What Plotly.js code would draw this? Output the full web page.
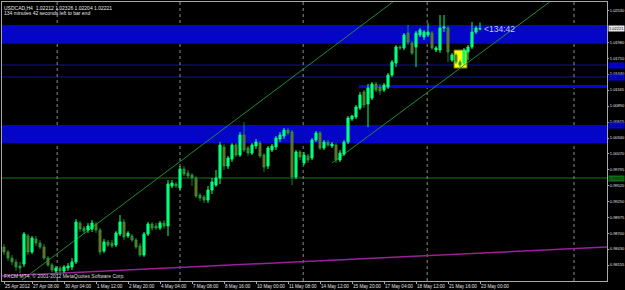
<!DOCTYPE html>
<html><head><meta charset="utf-8">
<script src="https://cdn.plot.ly/plotly-3.0.1.min.js"></script>
<style>html,body{margin:0;padding:0;background:#000;}#chart{width:625px;height:290px;}</style>
</head><body><div id="chart"></div>
<script>
// USDCAD H4 candles (oldest -> newest)
const open = [0.98466,0.98380,0.98276,0.98208,0.98139,0.98173,0.98655,0.98380,0.98603,0.98534,
0.98466,0.98276,0.98156,0.98053,0.98104,0.98053,0.98104,0.98122,0.98208,0.98878,
0.98792,0.98758,0.98775,0.98861,0.98758,0.98397,0.98552,0.98534,0.98500,0.98689,
0.98896,0.98655,0.98655,0.98586,0.98483,0.98328,0.98689,0.98861,0.98827,0.98792,
0.98878,0.98827,0.99515,0.99549,0.99480,0.99807,0.99738,0.99704,0.99652,0.99360,
0.99326,0.99274,0.99446,0.99532,0.99652,1.00186,0.99859,0.99979,1.00220,1.00048,
1.00392,1.00168,1.00082,1.00203,1.00254,1.00048,0.99859,1.00134,1.00186,1.00323,
1.00375,1.00478,1.00444,0.99670,1.00100,0.99910,1.00031,0.99996,1.00306,1.00426,
1.00168,1.00272,1.00203,1.00220,0.99962,1.00065,1.00272,1.00667,1.00702,1.00856,
1.01132,1.00925,1.01028,1.01269,1.01218,1.01166,1.01218,1.01424,1.01630,1.01906,
1.01888,1.02146,1.01974,1.01906,1.02112,1.02078,1.02112,1.02146,1.01854,1.01854,
1.02232,1.02232,1.01682,1.01768,1.01648,1.01630,1.01820,1.01906,1.02164,1.02212];
const high = [0.98517,0.98414,0.98328,0.98259,0.98208,0.98724,0.98689,0.98655,0.98655,0.98586,
0.98517,0.98311,0.98190,0.98139,0.98139,0.98156,0.98190,0.98276,0.98947,0.98913,
0.98827,0.98878,0.98930,0.98896,0.98792,0.98603,0.98586,0.98586,0.98741,0.99016,
0.98947,0.98741,0.98689,0.98620,0.98534,0.98724,0.98896,0.98896,0.98878,0.98913,
0.98930,0.99618,0.99618,0.99584,0.99859,0.99859,0.99790,0.99738,0.99687,0.99394,
0.99360,0.99515,0.99652,0.99790,1.00272,1.00237,1.00031,1.00254,1.00254,1.00444,
1.00616,1.00203,1.00254,1.00323,1.00289,1.00082,1.00203,1.00237,1.00375,1.00444,
1.00512,1.00512,1.00478,1.00134,1.00134,1.00100,1.00065,1.00340,1.00461,1.00461,
1.00306,1.00306,1.00272,1.00254,1.00134,1.00306,1.00719,1.00736,1.00908,1.01132,
1.01166,1.01269,1.01304,1.01304,1.01269,1.01286,1.01458,1.01682,1.01940,1.01940,
1.02146,1.02284,1.02009,1.02181,1.02232,1.02198,1.02318,1.02181,1.01923,1.02456,
1.02456,1.02267,1.01802,1.01802,1.01682,1.01888,1.01940,1.02336,1.02267,1.02326];
const low = [0.98328,0.98225,0.98156,0.98053,0.98018,0.98122,0.98328,0.98345,0.98483,0.98431,
0.98242,0.98122,0.98036,0.98018,0.98018,0.98018,0.98053,0.98070,0.98173,0.98724,
0.98689,0.98706,0.98724,0.98706,0.98328,0.98362,0.98466,0.98448,0.98466,0.98655,
0.98586,0.98620,0.98552,0.98431,0.98294,0.98294,0.98655,0.98741,0.98758,0.98758,
0.98775,0.98655,0.99480,0.99480,0.99446,0.99687,0.99652,0.99515,0.99308,0.99257,
0.99222,0.99222,0.99377,0.99498,0.99549,0.99790,0.99807,0.99928,1.00014,1.00014,
1.00100,1.00031,1.00048,1.00151,0.99996,0.99756,0.99807,1.00100,1.00134,1.00272,
1.00323,1.00392,0.99532,0.99635,0.99962,0.99876,0.99910,0.99962,1.00272,1.00134,
1.00134,1.00186,1.00168,0.99910,0.99928,1.00031,1.00237,1.00633,1.00667,1.00822,
1.00856,1.00530,1.00994,1.01132,1.01080,1.01132,1.01183,1.01390,1.01562,1.01854,
1.01854,1.01940,1.01768,1.01562,1.02078,1.02026,1.02078,1.01854,1.01820,1.01802,
1.02164,1.01648,1.01648,1.01613,1.01562,1.01596,1.01682,1.01871,1.02129,1.02204];
const close = [0.98380,0.98276,0.98208,0.98122,0.98104,0.98689,0.98380,0.98620,0.98534,0.98466,
0.98276,0.98156,0.98070,0.98104,0.98053,0.98122,0.98139,0.98208,0.98896,0.98775,
0.98741,0.98827,0.98878,0.98758,0.98380,0.98552,0.98500,0.98483,0.98706,0.98896,
0.98638,0.98706,0.98586,0.98466,0.98328,0.98689,0.98861,0.98792,0.98792,0.98878,
0.98827,0.99549,0.99566,0.99515,0.99807,0.99721,0.99687,0.99652,0.99343,0.99308,
0.99274,0.99446,0.99584,0.99652,1.00220,0.99859,0.99996,1.00220,1.00048,1.00392,
1.00134,1.00082,1.00220,1.00272,1.00031,0.99842,1.00168,1.00203,1.00340,1.00392,
1.00478,1.00426,0.99670,1.00100,1.00014,1.00048,0.99962,1.00306,1.00426,1.00168,
1.00272,1.00220,1.00237,0.99962,1.00082,1.00272,1.00684,1.00719,1.00874,1.01080,
1.00908,1.01200,1.01269,1.01166,1.01149,1.01252,1.01424,1.01648,1.01906,1.01888,
1.02112,1.01992,1.01802,1.02146,1.02198,1.02164,1.02164,1.01888,1.01888,1.02232,
1.02250,1.01820,1.01768,1.01648,1.01596,1.01854,1.01906,1.02164,1.02232,1.02221];

// time axis labels (bar index -> label)
const timeTickBars = [0,7,15,23,31,39,47,55,63,71,79,87,95,103,111,119];
const timeTickLabels = ["25 Apr 2012","27 Apr 08:00","30 Apr 04:00","1 May 12:00","2 May 20:00","4 May 04:00",
  "7 May 08:00","8 May 16:00","10 May 00:00","11 May 08:00","14 May 12:00","15 May 20:00",
  "17 May 04:00","18 May 12:00","21 May 16:00","23 May 00:00"];
// price axis
const priceTicks = [1.02530,1.01980,1.01710,1.01440,1.01165,1.00890,1.00615,1.00340,1.00070,
  0.99795,0.99520,0.99250,0.98975,0.98700,0.98430,0.98155,0.97880];

// drawn objects
const bidPrice = 1.02221;
const upperZone = [1.01960, 1.02285];
const lowerZone = [1.00254, 1.00564];
const smallZone = [1.01200, 1.01252];
const smallZoneStart = 88.7;
const blueLevels = [1.01596, 1.01390];
const greenLevel = 0.99652;
const upperChannelX = [4.5, 97.2], upperChannelY = [0.97898, 1.02680];
const lowerChannelX = [82, 136.4], lowerChannelY = [0.99910, 1.02680];
const magentaX = [-0.5, 150.75], magentaY = [0.97967, 0.98466];
const periodSeparators = [13.3, 44, 74.8, 105.8, 142.5];
const boxX = [112.5, 115.75], boxY = [1.01544, 1.01854];

const bars = open.map((_, i) => i);
const XR = [-0.5, 150.75], YR = [0.97881, 1.02680];
const F = 'Liberation Sans, Arial, sans-serif';

const shapes = [];
const band = (y0, y1, x0, x1, col) => shapes.push({type:'rect', xref:'x', yref:'y', x0:x0, x1:x1, y0:y0, y1:y1,
  fillcolor:col, line:{width:0}, layer:'below'});
band(upperZone[0], upperZone[1], XR[0], XR[1], '#0505c8');
band(lowerZone[0], lowerZone[1], XR[0], XR[1], '#0505c8');
band(smallZone[0], smallZone[1], smallZoneStart, XR[1], '#0505d8');
blueLevels.forEach(v => shapes.push({type:'line', xref:'paper', yref:'y', x0:0, x1:1, y0:v, y1:v,
  line:{color:'#12129a', width:1}, layer:'below'}));
shapes.push({type:'line', xref:'paper', yref:'y', x0:0, x1:1, y0:greenLevel, y1:greenLevel,
  line:{color:'#0b3a10', width:2}, layer:'below'});
shapes.push({type:'line', xref:'paper', yref:'y', x0:0, x1:1, y0:bidPrice, y1:bidPrice,
  line:{color:'#8a8ad8', width:1, dash:'dot'}, layer:'below'});
shapes.push({type:'rect', xref:'x', yref:'y', x0:boxX[0], x1:boxX[1], y0:boxY[0], y1:boxY[1],
  fillcolor:'#ffff00', line:{color:'#6b6b00', width:1}, layer:'below'});
periodSeparators.forEach(v => shapes.push({type:'line', xref:'x', yref:'paper', x0:v, x1:v, y0:0, y1:1,
  line:{color:'#8c8c8c', width:1, dash:'dot'}, layer:'below'}));
shapes.push({type:'line', xref:'x', yref:'y', x0:upperChannelX[0], x1:upperChannelX[1], y0:upperChannelY[0], y1:upperChannelY[1],
  line:{color:'#1f8a3c', width:1}, layer:'below'});
shapes.push({type:'line', xref:'x', yref:'y', x0:lowerChannelX[0], x1:lowerChannelX[1], y0:lowerChannelY[0], y1:lowerChannelY[1],
  line:{color:'#1f8a3c', width:1}, layer:'below'});
shapes.push({type:'line', xref:'x', yref:'y', x0:magentaX[0], x1:magentaX[1], y0:magentaY[0], y1:magentaY[1],
  line:{color:'#9c1f9c', width:1.5}, layer:'below'});

const fmt = v => v.toFixed(5);
const priceTag = (v, bg, fg) => ({xref:'paper', yref:'y', x:1, y:v, xanchor:'left', yanchor:'middle', xshift:1,
  text:fmt(v), showarrow:false, bgcolor:bg, font:{family:F, size:4, color:fg}, borderpad:0});

const annotations = [
  {xref:'paper', yref:'paper', x:0, y:1, xanchor:'left', yanchor:'top', xshift:0, yshift:-1, showarrow:false,
   text:'USDCAD,H4  1.02212 1.02326 1.02204 1.02221', font:{family:F, size:5, color:'#e8e8e8'}},
  {xref:'paper', yref:'paper', x:0, y:1, xanchor:'left', yanchor:'top', xshift:0, yshift:-6, showarrow:false,
   text:'134 minutes 42 seconds left to bar end', font:{family:F, size:5, color:'#e8e8e8'}},
  {xref:'paper', yref:'paper', x:0, y:0, xanchor:'left', yanchor:'bottom', xshift:0, yshift:0, showarrow:false,
   text:'FXCM MT4, © 2001-2012 MetaQuotes Software Corp.', font:{family:F, size:5, color:'#dcdcdc'}},
  {xref:'x', yref:'y', x:119.6, y:bidPrice, xanchor:'left', yanchor:'middle', showarrow:false,
   text:'&lt;134:42', font:{family:F, size:8.5, color:'#c8c8e8'}},
  priceTag(bidPrice, '#e6e6e6', '#000000'),
  priceTag(blueLevels[0], '#0000e6', '#000060'),
  priceTag(blueLevels[1], '#0000e6', '#000060'),
  priceTag(lowerZone[1], '#0000e6', '#000060'),
  priceTag(greenLevel, '#0e6e14', '#001800')
];

const trace = {
  type:'candlestick', x:bars, open:open, high:high, low:low, close:close,
  increasing:{line:{color:'#00ff7a', width:1}, fillcolor:'#00ff7a'},
  decreasing:{line:{color:'#00b040', width:0.8}, fillcolor:'#c83a10'},
  whiskerwidth:0, hoverinfo:'skip'
};

const layout = {
  width:625, height:290, margin:{l:2, r:18, t:2, b:9},
  paper_bgcolor:'#000000', plot_bgcolor:'#000000', showlegend:false, boxgap:0.25,
  xaxis:{range:XR, rangeslider:{visible:false}, showgrid:false, zeroline:false,
    showline:true, mirror:true, linecolor:'#a8a8a8', linewidth:1,
    tickmode:'array', tickvals:timeTickBars, ticktext:timeTickLabels, tickangle:0,
    ticks:'outside', ticklen:2, tickcolor:'#a8a8a8', ticklabelposition:'outside right',
    tickfont:{family:F, size:4.6, color:'#e0e0e0'}},
  yaxis:{range:YR, side:'right', showgrid:false, zeroline:false,
    showline:true, mirror:true, linecolor:'#a8a8a8', linewidth:1,
    tickmode:'array', tickvals:priceTicks, ticktext:priceTicks.map(fmt),
    ticks:'outside', ticklen:1, tickcolor:'#a8a8a8',
    tickfont:{family:F, size:4, color:'#e0e0e0'}},
  shapes:shapes, annotations:annotations
};

Plotly.newPlot('chart', [trace], layout, {staticPlot:true, displayModeBar:false});
</script></body></html>
